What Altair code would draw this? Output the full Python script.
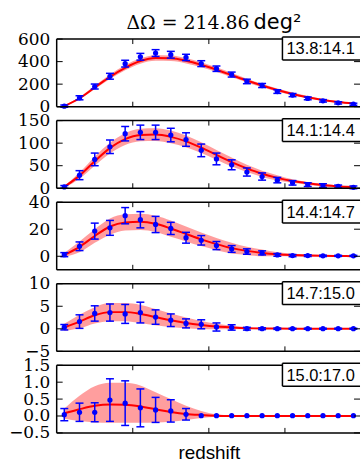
import altair as alt
import pandas as pd

# redshift bin centres
X = [0.1, 0.3, 0.5, 0.7, 0.9, 1.1, 1.3, 1.5, 1.7, 1.9,
     2.1, 2.3, 2.5, 2.7, 2.9, 3.1, 3.3, 3.5, 3.7, 3.9]

LABELS = ["13.8:14.1", "14.1:14.4", "14.4:14.7", "14.7:15.0", "15.0:17.0"]

P1_VAL = [5, 79, 179, 270, 382, 443, 476, 461, 437, 382, 337, 285, 224, 188, 134, 103, 73, 52, 34, 22]
P1_ERR = [10, 18, 22, 26, 30, 30, 30, 30, 28, 26, 24, 22, 20, 18, 16, 14, 12, 11, 10, 9]
P1_MOD = [5, 75, 170, 265, 345, 405, 432, 430, 408, 372, 328, 280, 232, 188, 148, 113, 84, 60, 42, 28]
P1_BAND = [5, 11, 16, 20, 22, 24, 25, 25, 24, 22, 21, 19, 17, 15, 13, 12, 10, 9, 8, 7]

P2_VAL = [3, 29, 64, 92, 121, 124, 124, 118, 108, 84, 65, 52, 36, 26, 18, 12, 8, 6, 4, 2]
P2_ERR = [3, 10, 14, 15, 16, 16, 16, 15, 15, 14, 13, 11, 9, 8, 6, 5, 4, 4, 3, 3]
P2_MOD = [3, 28, 60, 89, 109, 118, 119, 114, 104, 90, 74, 58, 44, 32, 23, 16, 11, 7, 4, 3]
P2_BAND = [2, 7, 10, 12, 13, 14, 14, 14, 13, 12, 11, 10, 8, 7, 6, 4, 3, 3, 2, 2]

P3_VAL = [1.2, 7.4, 18.6, 21, 30, 27, 23.5, 20.6, 13.7, 11.8, 7.9, 5.4, 3.5, 2.5, 1, 0.5, 0.5, 0.3, 0.3, 0.3]
P3_ERR = [1.5, 3.2, 5.9, 5.5, 6, 6, 6, 4.5, 4, 3.5, 3, 2.5, 2, 1.5, 1, 0.8, 0.6, 0.5, 0.4, 0.4]
P3_MOD = [1, 7, 15, 22, 25, 25.5, 24, 20.5, 16.5, 12.5, 9, 6, 4, 2.5, 1.5, 0.9, 0.5, 0.3, 0.2, 0.1]
P3_BAND = [1.5, 4, 5, 6, 6, 6, 6, 6, 5.5, 5, 4.5, 4, 3, 2.5, 1.5, 1, 0.8, 0.5, 0.4, 0.3]

P4_VAL = [0.35, 1.6, 3.4, 3.6, 3.3, 3.6, 2.6, 1.9, 1.2, 1.0, 0.4, 0.3, 0.02, 0.02, 0.02, 0.02, 0.02, 0.02, 0.02, 0.02]
P4_ERR = [0.6, 1.5, 1.7, 1.9, 2.1, 2.3, 1.6, 1.4, 1.0, 1.0, 0.9, 0.6, 0.3, 0.2, 0.15, 0.1, 0.1, 0.1, 0.1, 0.1]
P4_MOD = [0.3, 1.6, 3.0, 3.7, 3.7, 3.3, 2.6, 1.9, 1.3, 0.85, 0.5, 0.3, 0.15, 0.08, 0.05, 0.03, 0.02, 0.01, 0.01, 0.01]
P4_BAND = [0.8, 1.5, 1.8, 2.0, 2.0, 2.0, 1.8, 1.5, 1.2, 0.9, 0.6, 0.4, 0.25, 0.15, 0.1, 0.05, 0.05, 0.03, 0.02, 0.02]

P5_VAL = [0.04, 0.11, 0.11, 0.47, 0.38, 0.24, 0.18, 0.15, 0.05, 0.01, 0.01, 0.01, 0.01, 0.01, 0.01, 0.01, 0.01, 0.01, 0.01, 0.01]
P5_ERR = [0.18, 0.27, 0.28, 0.63, 0.66, 0.56, 0.37, 0.33, 0.17, 0, 0, 0, 0, 0, 0, 0, 0, 0, 0, 0]
P5_MOD = [0.08, 0.2, 0.3, 0.34, 0.33, 0.28, 0.2, 0.12, 0.06, 0.03, 0.01, 0, 0, 0, 0, 0, 0, 0, 0, 0]
P5_HI = [0.22, 0.6, 0.88, 0.98, 0.98, 0.9, 0.7, 0.5, 0.3, 0.15, 0.05, 0.02, 0.005, 0.005, 0.005, 0.005, 0.005, 0.005, 0.005, 0.005]
P5_LO = [-0.08, -0.15, -0.19, -0.2, -0.2, -0.2, -0.19, -0.17, -0.12, -0.06, -0.02, -0.005, -0.005, -0.005, -0.005, -0.005, -0.005, -0.005, -0.005, -0.005]

DOMAINS = [[0, 600], [0, 150], [-10, 40], [-5, 10], [-0.5, 1.5]]
YTICKS = [[0, 200, 400, 600], [0, 50, 100, 150], [0, 20, 40], [-5, 0, 5, 10], [-0.5, 0.0, 0.5, 1.0, 1.5]]
FMTS = ["d", "d", "d", "d", ".1f"]
XTICKS = [1, 2, 3]

W, H = 306, 68
BLUE = "#0000ff"
RED = "#ff0000"


def band_bounds(mod, half):
    return [m - h for m, h in zip(mod, half)], [m + h for m, h in zip(mod, half)]


PANELS = []
for vals, errs, mod, half in [(P1_VAL, P1_ERR, P1_MOD, P1_BAND), (P2_VAL, P2_ERR, P2_MOD, P2_BAND),
                              (P3_VAL, P3_ERR, P3_MOD, P3_BAND), (P4_VAL, P4_ERR, P4_MOD, P4_BAND)]:
    lo, hi = band_bounds(mod, half)
    PANELS.append((vals, errs, mod, lo, hi))
PANELS.append((P5_VAL, P5_ERR, P5_MOD, P5_LO, P5_HI))

dummy = pd.DataFrame({"d": [0]})


def make_panel(i):
    vals, errs, mod, blo, bhi = PANELS[i]
    df = pd.DataFrame({
        "z": X, "v": vals, "m": mod, "blo": blo, "bhi": bhi,
        "elo": [v - e for v, e in zip(vals, errs)],
        "ehi": [v + e for v, e in zip(vals, errs)],
        "e": errs,
    })
    dfe = df[df["e"] > 0.001]
    xs = alt.Scale(domain=[0, 4], nice=False, zero=False)
    ys = alt.Scale(domain=DOMAINS[i], nice=False, zero=False)
    last = i == 4
    if last:
        xaxis = alt.Axis(labels=False, ticks=False, domain=False, grid=False, title="redshift",
                         titleFont="Liberation Sans", titleFontSize=19, titleFontWeight="normal",
                         titleColor="black", titlePadding=11)
    else:
        xaxis = None
    yaxis = alt.Axis(values=YTICKS[i], format=FMTS[i], ticks=False, domain=False, grid=False,
                     labelFont="DejaVu Serif", labelFontSize=17, labelPadding=7,
                     labelColor="black", labelOverlap=False, title=None)

    def X_(f):
        return alt.X(f, scale=xs, axis=xaxis)

    def Y_(f):
        return alt.Y(f, scale=ys, axis=yaxis)

    band = alt.Chart(df).mark_area(color=RED, opacity=0.38, interpolate="monotone").encode(
        x=X_("z:Q"), y=Y_("blo:Q"), y2="bhi:Q")
    line = alt.Chart(df).mark_line(color=RED, strokeWidth=2, interpolate="monotone").encode(
        x=X_("z:Q"), y=Y_("m:Q"))
    ebar = alt.Chart(dfe).mark_rule(color=BLUE, strokeWidth=1.5).encode(
        x=X_("z:Q"), y=Y_("elo:Q"), y2="ehi:Q")
    cap_lo = alt.Chart(dfe).mark_tick(color=BLUE, thickness=1.5, size=8, orient="horizontal", opacity=1).encode(
        x=X_("z:Q"), y=Y_("elo:Q"))
    cap_hi = alt.Chart(dfe).mark_tick(color=BLUE, thickness=1.5, size=8, orient="horizontal", opacity=1).encode(
        x=X_("z:Q"), y=Y_("ehi:Q"))
    pts = alt.Chart(df).mark_circle(color=BLUE, size=28, opacity=1).encode(
        x=X_("z:Q"), y=Y_("v:Q"))

    xt = pd.DataFrame({"t": XTICKS})
    yt = pd.DataFrame({"t": YTICKS[i]})
    xtick_top = alt.Chart(xt).mark_rule(color="black", strokeWidth=1).encode(
        x=X_("t:Q"), y=alt.value(0), y2=alt.value(5))
    xtick_bot = alt.Chart(xt).mark_rule(color="black", strokeWidth=1).encode(
        x=X_("t:Q"), y=alt.value(H - 5), y2=alt.value(H))
    ytick_l = alt.Chart(yt).mark_rule(color="black", strokeWidth=1).encode(
        y=Y_("t:Q"), x=alt.value(0), x2=alt.value(6))
    ytick_r = alt.Chart(yt).mark_rule(color="black", strokeWidth=1).encode(
        y=Y_("t:Q"), x=alt.value(W - 7), x2=alt.value(W - 1))

    frame_l = alt.Chart(dummy).mark_rule(color="black", strokeWidth=1.5).encode(
        x=alt.value(0), y=alt.value(0), y2=alt.value(H))
    frame_t = alt.Chart(dummy).mark_rule(color="black", strokeWidth=1.5).encode(
        x=alt.value(0), x2=alt.value(W - 1), y=alt.value(0))
    frame_b = alt.Chart(dummy).mark_rule(color="black", strokeWidth=1.5).encode(
        x=alt.value(0), x2=alt.value(W - 1), y=alt.value(H))

    bx0, by0, by1 = 227, -2, 21
    box_fill = alt.Chart(dummy).mark_rect(color="white", opacity=1).encode(
        x=alt.value(bx0), x2=alt.value(W - 1), y=alt.value(by0), y2=alt.value(by1))
    box_l = alt.Chart(dummy).mark_rule(color="black", strokeWidth=1.5).encode(
        x=alt.value(bx0), y=alt.value(by0), y2=alt.value(by1))
    box_t = alt.Chart(dummy).mark_rule(color="black", strokeWidth=1.5).encode(
        x=alt.value(bx0), x2=alt.value(W - 1), y=alt.value(by0))
    box_b = alt.Chart(dummy).mark_rule(color="black", strokeWidth=1.5).encode(
        x=alt.value(bx0), x2=alt.value(W - 1), y=alt.value(by1))
    box_txt = alt.Chart(pd.DataFrame({"s": [LABELS[i]]})).mark_text(
        font="Liberation Sans", fontSize=16.5, align="left", baseline="alphabetic", color="black").encode(
        x=alt.value(bx0 + 4), y=alt.value(15.5), text="s:N")

    layers = [band, line, ebar, cap_lo, cap_hi, pts, xtick_top, xtick_bot, ytick_l, ytick_r,
              frame_l, frame_t, frame_b, box_fill, box_l, box_t, box_b, box_txt]

    if i == 0:
        anchor = alt.Chart(dummy).mark_rect(color="white", opacity=0).encode(
            x=alt.value(-56), x2=alt.value(-50), y=alt.value(-37.5), y2=alt.value(-30))
        t1 = alt.Chart(pd.DataFrame({"s": ["\u0394\u03a9 = 214.86"]})).mark_text(
            font="DejaVu Serif", fontSize=19, align="right", baseline="alphabetic", color="black").encode(
            x=alt.value(194), y=alt.value(-10), text="s:N")
        t2 = alt.Chart(pd.DataFrame({"s": ["deg\u00b2"]})).mark_text(
            font="DejaVu Sans", fontSize=21, align="left", baseline="alphabetic", color="black").encode(
            x=alt.value(198), y=alt.value(-10), text="s:N")
        layers = layers + [anchor, t1, t2]

    return alt.layer(*layers).properties(width=W, height=H)


chart = alt.vconcat(*[make_panel(i) for i in range(5)], spacing=14, bounds="flush").properties(
    padding=0
).configure_view(stroke="transparent")

chart.save("out.html", embed_options={"renderer": "svg", "actions": False})
